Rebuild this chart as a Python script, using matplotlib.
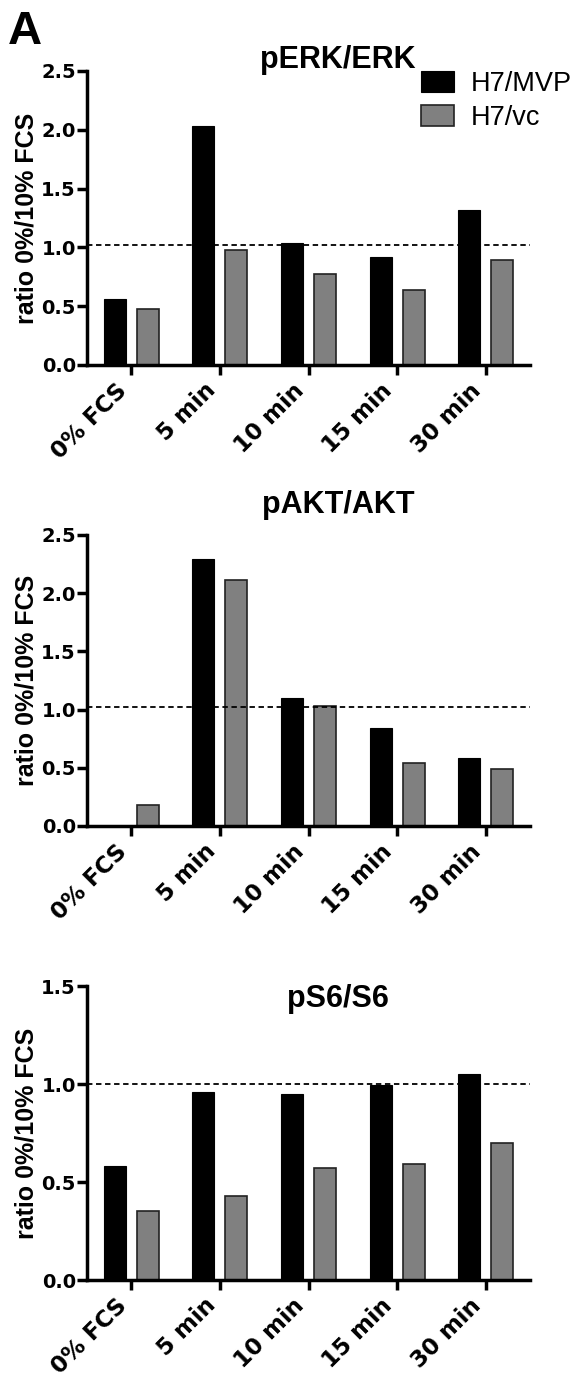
import matplotlib
matplotlib.use("Agg")
import matplotlib.pyplot as plt
import numpy as np

plt.rcParams['font.family'] = ['Liberation Sans', 'DejaVu Sans']

# ---- data ----
categories = ['0% FCS', '5 min', '10 min', '15 min', '30 min']
series_names = ['H7/MVP', 'H7/vc']

perk_mvp = [0.56, 2.03, 1.04, 0.92, 1.32]
perk_vc = [0.48, 0.98, 0.77, 0.64, 0.89]

pakt_mvp = [0.0, 2.29, 1.10, 0.84, 0.58]
pakt_vc = [0.18, 2.11, 1.03, 0.54, 0.49]

ps6_mvp = [0.58, 0.96, 0.95, 0.995, 1.05]
ps6_vc = [0.35, 0.43, 0.57, 0.59, 0.70]

titles = ['pERK/ERK', 'pAKT/AKT', 'pS6/S6']
y_max = [2.5, 2.5, 1.5]
ref_line = [1.02, 1.02, 1.0]

panels = [(perk_mvp, perk_vc), (pakt_mvp, pakt_vc), (ps6_mvp, ps6_vc)]

# ---- figure ----
W, H = 575, 1377
fig = plt.figure(figsize=(W / 100, H / 100), dpi=100)
fig.set_facecolor('white')

black = '#000000'
grey = '#808080'
tick_font = 'DejaVu Sans'

# axes boxes in pixels: (y of x-axis, y of top tick)
boxes = [(365, 71), (826, 535), (1280, 986)]
left_px, right_px = 87, 530
title_y = [1.037, 1.103, 0.956]

x = np.arange(len(categories))
bw = 0.25
off = 0.186

for i, ((mvp, vc), (ybot, ytop)) in enumerate(zip(panels, boxes)):
    ax = fig.add_axes([left_px / W, 1 - ybot / H, (right_px - left_px) / W, (ybot - ytop) / H])
    ax.bar(x - off, mvp, bw, color=black, edgecolor=black, linewidth=0.8, label=series_names[0])
    ax.bar(x + off, vc, bw, color=grey, edgecolor='#222222', linewidth=1.2, label=series_names[1])
    ax.axhline(ref_line[i], color='black', ls=(0, (3, 2)), lw=1.3, zorder=3)

    ax.set_xlim(-0.5, 4.5)
    ax.set_ylim(0, y_max[i])
    yt = np.arange(0, y_max[i] + 0.01, 0.5)
    ax.set_yticks(yt)
    ax.set_yticklabels([f'{v:.1f}' for v in yt], fontsize=14, fontweight='bold', family=tick_font)
    ax.set_xticks(x)
    ax.set_xticklabels(categories, rotation=45, ha='right', va='top',
                       fontsize=16.5, fontweight='bold', family=tick_font)
    ax.spines[['right', 'top']].set_visible(False)
    for s in ['left', 'bottom']:
        ax.spines[s].set_linewidth(2.5)
    ax.tick_params(axis='both', width=2.5, length=7, pad=1)
    ax.tick_params(axis='x', pad=3)
    ax.set_ylabel('ratio 0%/10% FCS', fontsize=18, fontweight='bold')
    ax.yaxis.set_label_coords(-0.11, 0.5)
    ax.text(0.567, title_y[i], titles[i], transform=ax.transAxes, ha='center', va='center',
            fontsize=22, fontweight='bold')

    if i == 0:
        ax.legend(loc='upper left', bbox_to_anchor=((421 - left_px) / (right_px - left_px), 1.0),
                  frameon=False, fontsize=19.5, handlelength=1.22, handleheight=0.81,
                  handletextpad=0.63, labelspacing=0.3, borderaxespad=0, borderpad=0)

fig.text(8 / W, 1 - 44 / H, 'A', fontsize=34, fontweight='bold', va='baseline')

fig.savefig('out.png', dpi=100)
